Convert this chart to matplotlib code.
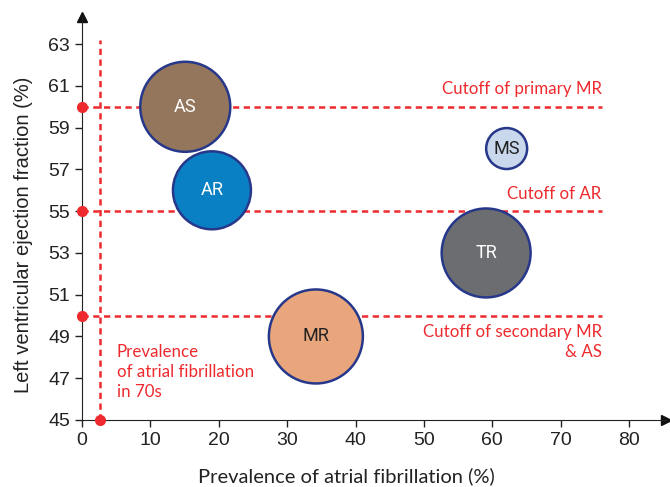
import matplotlib
matplotlib.use("Agg")
import matplotlib.pyplot as plt

# Bubble data
diseases = ["AS", "AR", "MS", "TR", "MR"]
af_prevalence = [15.1, 19.0, 62.1, 59.1, 34.2]
lvef = [60, 56, 58, 53, 49]
bubble_sizes = [4200, 3150, 870, 4100, 4580]
bubble_colors = ["#94765c", "#0a80c4", "#c9d8ec", "#6c6d70", "#e9a57c"]
label_colors = ["white", "white", "#222222", "white", "#222222"]

# Cutoff lines
cutoff_lvef = [60, 55, 50]
cutoff_labels = ["Cutoff of primary MR", "Cutoff of AR", "Cutoff of secondary MR\n& AS"]
af_70s = 2.7

xticks = [0, 10, 20, 30, 40, 50, 60, 70, 80]
yticks = [45, 47, 49, 51, 53, 55, 57, 59, 61, 63]

red = "#ee2a2e"
label_font = ["Lato", "DejaVu Sans"]
arial = ["Liberation Sans", "DejaVu Sans"]

fig = plt.figure(figsize=(6.7, 4.87), dpi=100)
ax = fig.add_axes([0.1224, 0.1376, 0.8716, 0.8275])
ax.set_xlim(0, 85.4)
ax.set_ylim(45, 64.3)

# dashed reference lines
for yv in cutoff_lvef:
    ax.plot([0, 76], [yv, yv], color=red, lw=1.8, ls=(0, (2.5, 1.8)), zorder=1)
    ax.plot(0, yv, "o", color=red, ms=7, clip_on=False, zorder=5)
ax.plot([af_70s, af_70s], [45, 63.2], color=red, lw=1.8, ls=(0, (2.5, 1.8)), zorder=1)
ax.plot(af_70s, 45, "o", color=red, ms=7, clip_on=False, zorder=5)

# bubbles
ax.scatter(af_prevalence, lvef, s=bubble_sizes, c=bubble_colors,
           edgecolors="#27388a", linewidths=1.8, zorder=3)
for name, xv, yv, tc in zip(diseases, af_prevalence, lvef, label_colors):
    ax.text(xv, yv, name, ha="center", va="center", fontsize=13,
            color=tc, family=["Roboto", "DejaVu Sans"], zorder=4)

# annotation text
ax.text(76, 60.45, cutoff_labels[0], ha="right", va="bottom", fontsize=12.2,
        color=red, family=label_font)
ax.text(76, 55.45, cutoff_labels[1], ha="right", va="bottom", fontsize=12.2,
        color=red, family=label_font)
ax.text(76, 49.6, cutoff_labels[2], ha="right", va="top", fontsize=12.2,
        color=red, family=label_font, linespacing=1.3)
ax.text(5.1, 48.65, "Prevalence\nof atrial fibrillation\nin 70s", ha="left", va="top",
        fontsize=12.2, color=red, family=label_font, linespacing=1.3)

# axes styling
for s in ["top", "right"]:
    ax.spines[s].set_visible(False)
ax.spines["left"].set_color("#222222")
ax.spines["bottom"].set_color("#222222")
ax.plot(1, 0, ">", color="#111111", ms=7, transform=ax.transAxes, clip_on=False)
ax.plot(0, 1, "^", color="#111111", ms=7, transform=ax.transAxes, clip_on=False)

ax.set_xticks(xticks)
ax.set_yticks(yticks)
ax.tick_params(direction="out", length=5, width=1, colors="#222222", labelsize=14)
for lab in ax.get_xticklabels() + ax.get_yticklabels():
    lab.set_family(arial)

fig.text(346.5 / 670, 1 - 476 / 487, "Prevalence of atrial fibrillation (%)",
         ha="center", va="center", fontsize=14.5, family=label_font, color="#222222")
fig.text(24 / 670, 1 - 235 / 487, "Left ventricular ejection fraction (%)",
         ha="center", va="center", rotation=90, fontsize=14.5, family=arial,
         color="#222222")

fig.savefig("out.png", dpi=100)
